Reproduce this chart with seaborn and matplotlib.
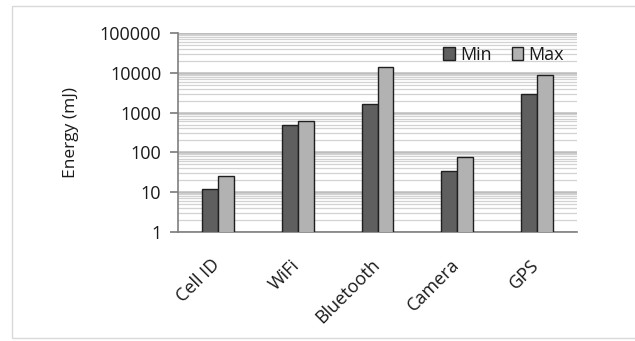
import matplotlib
matplotlib.use("Agg")
import matplotlib.pyplot as plt
import matplotlib.ticker as mticker
import matplotlib.transforms as mtransforms
from matplotlib.patches import Rectangle
import seaborn as sns
import pandas as pd

categories = ["Cell ID", "WiFi", "Bluetooth", "Camera", "GPS"]
min_values = [12, 480, 1600, 34, 2950]
max_values = [25, 600, 14000, 76, 8800]
series_names = ["Min", "Max"]
y_ticks = [1, 10, 100, 1000, 10000, 100000]

df = pd.DataFrame({
    "Sensor": categories * 2,
    "Series": [series_names[0]] * len(categories) + [series_names[1]] * len(categories),
    "Energy": min_values + max_values,
})

sns.set_theme(style="white")
plt.rcParams["font.family"] = ["Open Sans", "DejaVu Sans"]

fig = plt.figure(figsize=(6.35, 3.41), dpi=100)
fig.patches.append(Rectangle((12 / 635, 3 / 341), 1.0, 332 / 341, transform=fig.transFigure,
                             fill=False, edgecolor="#d9d9d9", linewidth=1.0))
ax = fig.add_axes([178 / 635, 1 - 232 / 341, 399 / 635, 199 / 341])
ax.set_yscale("log")

sns.barplot(data=df, x="Sensor", y="Energy", hue="Series", order=categories,
            hue_order=series_names, palette=["#5f5f5f", "#b2b2b2"], width=0.4, gap=0,
            edgecolor="#1f1f1f", linewidth=1.0, ax=ax, zorder=3, legend=True)

ax.set_ylim(1, 100000)
ax.set_xlim(-0.5, len(categories) - 0.5)
ax.yaxis.set_major_locator(mticker.FixedLocator(y_ticks))
ax.yaxis.set_major_formatter(mticker.FuncFormatter(lambda v, p: f"{int(round(v))}"))
ax.yaxis.set_minor_locator(mticker.LogLocator(base=10, subs=range(2, 10), numticks=50))
ax.yaxis.set_minor_formatter(mticker.NullFormatter())
ax.grid(True, which="major", axis="y", color="#bdbdbd", linewidth=1.8, zorder=0)
ax.grid(True, which="minor", axis="y", color="#d2d2d2", linewidth=0.9, zorder=0)
ax.set_axisbelow(True)

for s in ["top", "right"]:
    ax.spines[s].set_visible(False)
for s in ["left", "bottom"]:
    ax.spines[s].set_color("#7f7f7f")
    ax.spines[s].set_linewidth(1.2)

ax.tick_params(axis="y", which="major", left=True, length=6, color="#7f7f7f", labelsize=13,
               pad=6, labelcolor="#1a1a1a")
ax.tick_params(axis="y", which="minor", left=False)
ax.tick_params(axis="x", bottom=False, labelsize=13, labelcolor="#1a1a1a", pad=12)
offset = mtransforms.ScaledTranslation(-7 / 100, 1 / 100, fig.dpi_scale_trans)
for lbl in ax.get_xticklabels():
    lbl.set_rotation(45)
    lbl.set_ha("right")
    lbl.set_rotation_mode("anchor")
    lbl.set_transform(lbl.get_transform() + offset)

ax.set_xlabel("")
ax.set_ylabel("Energy (mJ)", fontsize=12.5, color="#1a1a1a", labelpad=15)

leg = ax.legend(loc="upper right", bbox_to_anchor=(0.995, 0.99), ncol=2, frameon=False,
                fontsize=13, handlelength=0.65, handleheight=0.65, handletextpad=0.3,
                columnspacing=1.1, borderaxespad=0.2)
for t in leg.get_texts():
    t.set_color("#1a1a1a")

fig.savefig("out.png", dpi=100)
